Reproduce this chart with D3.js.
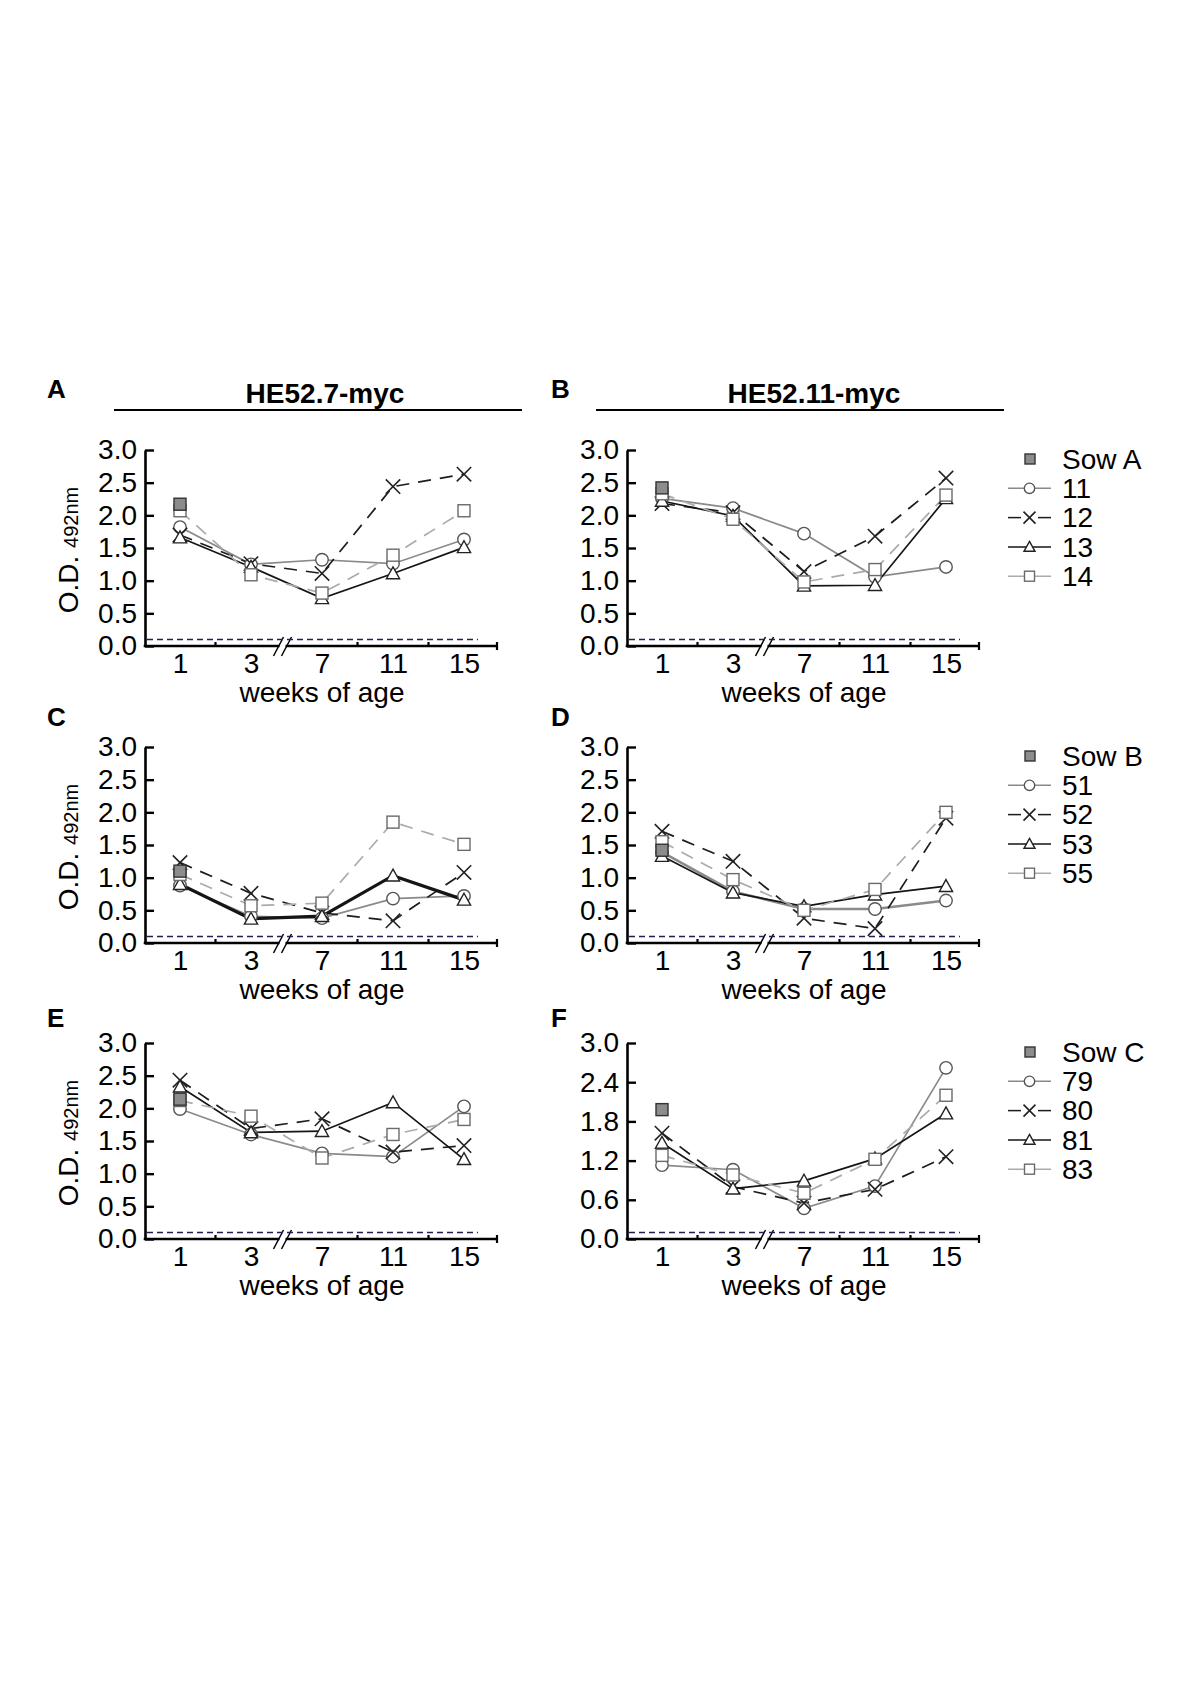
<!DOCTYPE html>
<html><head><meta charset="utf-8">
<script src="https://cdn.jsdelivr.net/npm/d3@7"></script>
<style>
body{margin:0;background:#fff}
svg{display:block}
text{font-family:"Liberation Sans",Arial,Helvetica,sans-serif;fill:#000}
</style>
</head><body>
<svg id="c" width="1200" height="1698"></svg>
<script>
// ---------------- DATA ----------------
const weeks = ["1", "3", "7", "11", "15"];
const panelLetters = ["A", "B", "C", "D", "E", "F"];
const constructs = ["HE52.7-myc", "HE52.11-myc"];
const sowNames = ["Sow A", "Sow B", "Sow C"];
const pigIds = [["11", "12", "13", "14"], ["51", "52", "53", "55"], ["79", "80", "81", "83"]];
const yTicksHalf = [0, 0.5, 1.0, 1.5, 2.0, 2.5, 3.0];
const yTicksF = [0, 0.6, 1.2, 1.8, 2.4, 3.0];
const cutoff = 0.1;

// Sow value at week 1, per panel A..F
const sowValues = [2.17, 2.42, 1.10, 1.42, 2.14, 1.98];

// series 1 (circle), series 2 (x), series 3 (triangle), series 4 (square); per panel A..F
const seriesCircle = [
  [1.82, 1.25, 1.32, 1.26, 1.63],
  [2.26, 2.11, 1.72, 1.06, 1.21],
  [0.88, 0.41, 0.38, 0.68, 0.72],
  [1.39, 0.79, 0.52, 0.52, 0.65],
  [1.99, 1.60, 1.31, 1.26, 2.03],
  [1.13, 1.06, 0.47, 0.81, 2.62]
];
const seriesCross = [
  [1.70, 1.26, 1.11, 2.44, 2.63],
  [2.18, 2.04, 1.14, 1.68, 2.57],
  [1.23, 0.76, 0.46, 0.34, 1.08],
  [1.71, 1.25, 0.38, 0.22, 1.91],
  [2.43, 1.69, 1.84, 1.33, 1.43],
  [1.62, 0.80, 0.55, 0.76, 1.26]
];
const seriesTriangle = [
  [1.66, 1.21, 0.73, 1.11, 1.51],
  [2.22, 1.99, 0.92, 0.93, 2.26],
  [0.90, 0.37, 0.41, 1.03, 0.66],
  [1.33, 0.77, 0.56, 0.74, 0.87],
  [2.33, 1.63, 1.65, 2.09, 1.22],
  [1.47, 0.77, 0.89, 1.23, 1.92]
];
const seriesSquare = [
  [2.07, 1.09, 0.81, 1.39, 2.07],
  [2.33, 1.94, 0.98, 1.17, 2.31],
  [1.05, 0.57, 0.61, 1.85, 1.51],
  [1.55, 0.97, 0.50, 0.82, 2.00],
  [2.12, 1.88, 1.24, 1.60, 1.83],
  [1.28, 0.98, 0.70, 1.22, 2.20]
];

// ---------------- STYLE / LAYOUT ----------------
const seriesStyle = [
  {sym: "circle",   color: "#8a8a8a", mark: "#555", dash: null},
  {sym: "cross",    color: "#1c1c1c", mark: "#222", dash: "13,9"},
  {sym: "triangle", color: "#151515", mark: "#222", dash: null},
  {sym: "square",   color: "#ababab", mark: "#6a6a6a", dash: "13,9"}
];
const seriesData = [seriesCircle, seriesCross, seriesTriangle, seriesSquare];
const lineWidth = (p, s) => (p === 2 && s === 2) ? 3.2 : (p === 3 && s === 0) ? 2.6 : 1.7;

const colDX = [0, 482];
const rowDY = [0, 297, 593];
const letterY = [398, 726, 1027];
const letterX = [47, 551];
const titleX = [325, 814];
const FS = 28;

const svg = d3.select("#c");

function drawSymbol(g, type, cx, cy, s, stroke, fill) {
  if (type === "circle") {
    g.append("circle").attr("cx", cx).attr("cy", cy).attr("r", s * 0.52)
      .attr("fill", fill).attr("stroke", stroke).attr("stroke-width", 1.4);
  } else if (type === "cross") {
    const h = s * 0.6;
    g.append("path").attr("d", `M${cx - h},${cy - h}L${cx + h},${cy + h}M${cx - h},${cy + h}L${cx + h},${cy - h}`)
      .attr("stroke", stroke).attr("stroke-width", 1.6).attr("fill", "none");
  } else if (type === "triangle") {
    const h = s * 0.55;
    g.append("path").attr("d", `M${cx},${cy - h}L${cx + h},${cy + h * 0.8}L${cx - h},${cy + h * 0.8}Z`)
      .attr("fill", fill).attr("stroke", stroke).attr("stroke-width", 1.4);
  } else if (type === "square") {
    const h = s * 0.5;
    g.append("rect").attr("x", cx - h).attr("y", cy - h).attr("width", 2 * h).attr("height", 2 * h)
      .attr("fill", fill).attr("stroke", stroke).attr("stroke-width", 1.4);
  }
}

panelLetters.forEach((letter, i) => {
  const col = i % 2, row = Math.floor(i / 2);
  const dx = colDX[col], dy = rowDY[row];
  const g = svg.append("g");
  const x = d3.scalePoint().domain(weeks).range([180 + dx, 464 + dx]);
  const y = d3.scaleLinear().domain([0, 3]).range([646 + dy, 450 + dy]);
  const axisX = 145 + dx, axisEnd = 498 + dx;

  g.append("text").attr("x", letterX[col]).attr("y", letterY[row])
    .attr("font-size", 26).attr("font-weight", "bold").text(letter);

  if (row === 0) {
    g.append("text").attr("x", titleX[col]).attr("y", 403).attr("text-anchor", "middle")
      .attr("font-size", 28).attr("font-weight", "bold").text(constructs[col]);
    g.append("line").attr("x1", 114 + dx).attr("x2", 522 + dx).attr("y1", 410).attr("y2", 410)
      .attr("stroke", "#000").attr("stroke-width", 2);
  }

  const ticks = i === 5 ? yTicksF : yTicksHalf;
  const yAxis = d3.axisLeft(y).tickValues(ticks).tickSizeInner(-9).tickSizeOuter(0).tickPadding(8)
    .tickFormat(d3.format(".1f"));
  const ya = g.append("g").attr("transform", `translate(${axisX},0)`).call(yAxis);
  ya.select(".domain").attr("stroke", "#000").attr("stroke-width", 2.6);
  ya.selectAll(".tick line").attr("stroke", "#000").attr("stroke-width", 2.4);
  ya.selectAll("text").attr("font-size", FS).attr("font-family", null).attr("fill", "#000");

  const xAxis = d3.axisBottom(x).tickSize(0).tickPadding(7);
  const xa = g.append("g").attr("transform", `translate(0,${y(0)})`).call(xAxis);
  xa.select(".domain").remove();
  xa.selectAll("text").attr("font-size", FS).attr("font-family", null).attr("fill", "#000");

  g.append("line").attr("x1", axisX - 1.3).attr("x2", axisEnd).attr("y1", y(0)).attr("y2", y(0))
    .attr("stroke", "#000").attr("stroke-width", 2.6);
  const mids = [[0, 1], [2, 3], [3, 4]].map(([a, b]) => (x(weeks[a]) + x(weeks[b])) / 2).concat([axisEnd - 1]);
  mids.forEach(mx => g.append("line").attr("x1", mx).attr("x2", mx).attr("y1", y(0)).attr("y2", y(0) - 4)
    .attr("stroke", "#000").attr("stroke-width", 2.2));
  g.append("line").attr("x1", axisEnd - 1).attr("x2", axisEnd - 1).attr("y1", y(0)).attr("y2", y(0) + 4)
    .attr("stroke", "#000").attr("stroke-width", 2.2);

  const bx = (x(weeks[1]) + x(weeks[2])) / 2 - 4;
  g.append("rect").attr("x", bx - 3).attr("y", y(0) - 3).attr("width", 6).attr("height", 6).attr("fill", "#fff");
  [-4, 4].forEach(o => g.append("line").attr("x1", bx + o - 5).attr("y1", y(0) + 10)
    .attr("x2", bx + o + 5).attr("y2", y(0) - 9).attr("stroke", "#000").attr("stroke-width", 1.5));

  g.append("line").attr("x1", axisX + 2).attr("x2", axisEnd - 20).attr("y1", y(cutoff)).attr("y2", y(cutoff))
    .attr("stroke", "#1f1f55").attr("stroke-width", 1.6).attr("stroke-dasharray", "6,4");

  g.append("text").attr("x", x(weeks[2])).attr("y", y(0) + 56).attr("text-anchor", "middle")
    .attr("font-size", FS).text("weeks of age");
  if (col === 0) {
    const yl = g.append("text").attr("transform", `translate(78,${(y(0) + y(3)) / 2 + 2}) rotate(-90)`)
      .attr("text-anchor", "middle");
    yl.append("tspan").attr("font-size", 28).text("O.D. ");
    yl.append("tspan").attr("font-size", 20).text("492nm");
  }

  const line = d3.line().x(d => x(d.w)).y(d => y(d.v));
  seriesData.forEach((arr, s) => {
    const st = seriesStyle[s];
    const pts = weeks.map((w, k) => ({w, v: arr[i][k]}));
    g.append("path").datum(pts).attr("d", line).attr("fill", "none")
      .attr("stroke", st.color).attr("stroke-width", lineWidth(i, s))
      .attr("stroke-dasharray", st.dash);
  });
  seriesData.forEach((arr, s) => {
    const st = seriesStyle[s];
    weeks.forEach((w, k) => drawSymbol(g, st.sym, x(w), y(arr[i][k]), 12, st.mark, "#fff"));
  });
  drawSymbol(g, "square", x(weeks[0]), y(sowValues[i]), 12, "#333", "#8c8c8c");

  if (col === 1) {
    const ly0 = y(3) + 9, step = 29.3;
    const lg = g.append("g");
    drawSymbol(lg, "square", 1030, ly0, 10, "#333", "#8c8c8c");
    lg.append("text").attr("x", 1062).attr("y", ly0).attr("dy", "0.35em").attr("font-size", FS).text(sowNames[row]);
    seriesStyle.forEach((st, s) => {
      const ly = ly0 + step * (s + 1);
      if (st.sym === "cross") {
        lg.append("line").attr("x1", 1008).attr("x2", 1021).attr("y1", ly).attr("y2", ly).attr("stroke", st.color).attr("stroke-width", 1.5);
        lg.append("line").attr("x1", 1038).attr("x2", 1051).attr("y1", ly).attr("y2", ly).attr("stroke", st.color).attr("stroke-width", 1.5);
      } else {
        lg.append("line").attr("x1", 1008).attr("x2", 1051).attr("y1", ly).attr("y2", ly).attr("stroke", st.color).attr("stroke-width", 1.5);
      }
      drawSymbol(lg, st.sym, 1029.5, ly, 10, st.mark, "#fff");
      lg.append("text").attr("x", 1062).attr("y", ly).attr("dy", "0.35em").attr("font-size", FS).text(pigIds[row][s]);
    });
  }
});
</script>
</body></html>
